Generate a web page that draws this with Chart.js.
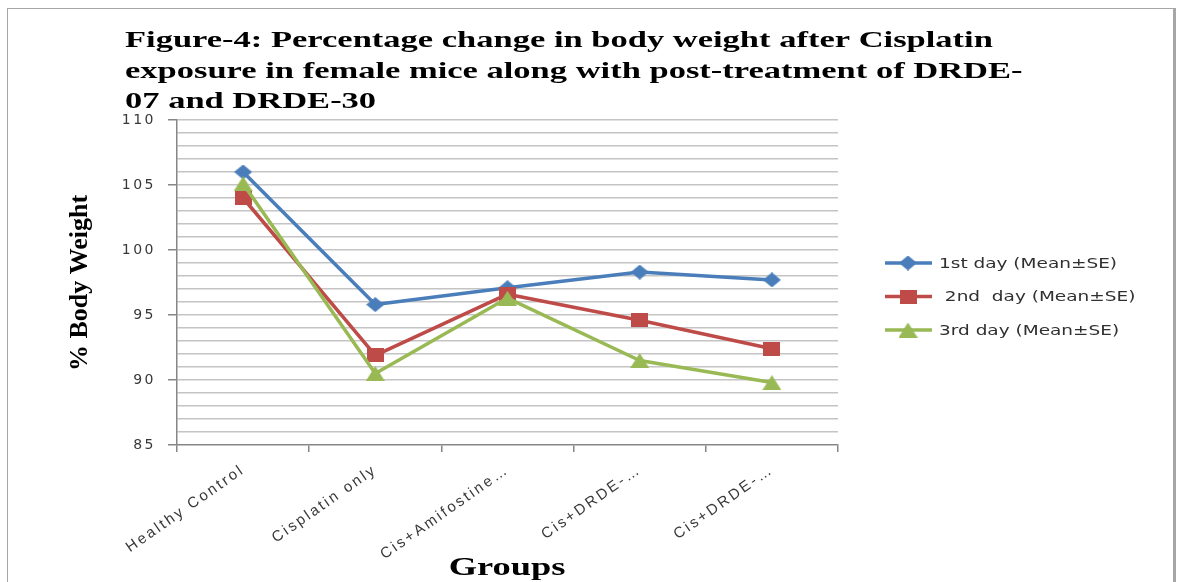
<!DOCTYPE html>
<html>
<head>
<meta charset="utf-8">
<title>Percentage change in body weight</title>
<style>
  html, body { margin: 0; padding: 0; background: #ffffff; overflow: hidden; }
  #wrap { position: relative; width: 1177px; height: 582px; }
  #frame {
    position: absolute; left: 7px; top: 8px; width: 1169px; height: 620px;
    box-sizing: border-box; border: 1.5px solid #a6a6a6; border-right: 3px solid #a6a6a6;
  }
  #c { position: absolute; left: 0; top: 0; }
</style>
<script src="https://cdn.jsdelivr.net/npm/chart.js@4.4.1/dist/chart.umd.min.js"></script>
</head>
<body>
<div id="wrap">
  <div id="frame"></div>
  <canvas id="c" width="1177" height="582"></canvas>
</div>
<script>
// Treatment groups (category axis)
const groups = ['Healthy Control', 'Cisplatin only', 'Cis+Amifostine\u2026', 'Cis+DRDE-\u2026', 'Cis+DRDE-\u2026'];

// % body weight, mean per group
const day1 = [106.0, 95.8, 97.1, 98.3, 97.7];
const day2 = [104.0, 91.9, 96.6, 94.6, 92.4];
const day3 = [105.1, 90.5, 96.3, 91.5, 89.8];

const seriesNames = ['1st day (Mean\u00b1SE)', ' 2nd  day (Mean\u00b1SE)', '3rd day (Mean\u00b1SE)'];

const titleLines = [
  'Figure-4: Percentage change in body weight after Cisplatin',
  'exposure in female mice along with post-treatment of DRDE-',
  '07 and DRDE-30'
];
const yTitle = '% Body Weight';
const xTitle = 'Groups';

const colors = ['#4A7EBB', '#BE4B48', '#98B954'];

// Marker sprites (slightly wide shapes)
function makeMarker(kind, color, w, h) {
  const cv = document.createElement('canvas');
  cv.width = w; cv.height = h;
  const g = cv.getContext('2d');
  g.fillStyle = color;
  g.beginPath();
  if (kind === 'diamond') {
    g.moveTo(w / 2, 0); g.lineTo(w, h / 2); g.lineTo(w / 2, h); g.lineTo(0, h / 2);
  } else if (kind === 'square') {
    g.rect(0, 0, w, h);
  } else {
    g.moveTo(w / 2, 0); g.lineTo(w, h); g.lineTo(0, h);
  }
  g.closePath();
  g.fill();
  return cv;
}
const markers = [
  makeMarker('diamond', colors[0], 18, 15),
  makeMarker('square', colors[1], 17, 14),
  makeMarker('triangle', colors[2], 19, 15)
];

const seriesValues = [day1, day2, day3];

// Text drawn with a horizontal stretch (wide lettering)
function wideText(ctx, text, x, y, sx) {
  ctx.save();
  ctx.translate(x, y);
  ctx.scale(sx, 1);
  ctx.fillText(text, 0, 0);
  ctx.restore();
}

const figureText = {
  id: 'figureText',
  beforeDraw(chart) {
    chart.ctx.letterSpacing = '2.5px';
  },
  afterDraw(chart) {
    const ctx = chart.ctx;
    ctx.save();
    ctx.letterSpacing = '0px';

    // Title
    ctx.fillStyle = '#000000';
    ctx.textAlign = 'left';
    ctx.textBaseline = 'alphabetic';
    ctx.font = 'bold 23px "Liberation Serif", "Times New Roman", serif';
    titleLines.forEach((t, i) => wideText(ctx, t, 125, 47 + i * 30.5, 1.5));

    // Axis titles
    ctx.save();
    ctx.translate(80, 283);
    ctx.rotate(-Math.PI / 2);
    ctx.textAlign = 'center';
    ctx.textBaseline = 'middle';
    ctx.font = 'bold 26px "Liberation Serif", "Times New Roman", serif';
    ctx.fillText(yTitle, 0, 0);
    ctx.restore();

    ctx.textAlign = 'center';
    ctx.textBaseline = 'alphabetic';
    ctx.font = 'bold 26px "Liberation Serif", "Times New Roman", serif';
    wideText(ctx, xTitle, 507, 575, 1.4);

    // Legend
    ctx.font = '14px "DejaVu Sans", Verdana, sans-serif';
    ctx.textAlign = 'left';
    ctx.textBaseline = 'middle';
    chart.data.datasets.forEach((ds, i) => {
      const y = 263 + i * 33.5;
      ctx.strokeStyle = ds.borderColor;
      ctx.lineWidth = 3.5;
      ctx.beginPath();
      ctx.moveTo(885, y);
      ctx.lineTo(932, y);
      ctx.stroke();
      const m = ds.pointStyle;
      ctx.drawImage(m, 908 - m.width / 2, y - m.height / 2);
      ctx.fillStyle = '#303030';
      wideText(ctx, ds.label, 939, y + 1, 1.32);
    });

    ctx.restore();
  }
};

new Chart(document.getElementById('c'), {
  type: 'line',
  data: {
    labels: groups,
    datasets: seriesValues.map((vals, i) => ({
      label: seriesNames[i],
      data: vals,
      borderColor: colors[i],
      backgroundColor: colors[i],
      borderWidth: 3.5,
      borderJoinStyle: 'round',
      pointStyle: markers[i],
      tension: 0,
      order: 3 - i
    }))
  },
  options: {
    responsive: false,
    animation: false,
    devicePixelRatio: 1,
    layout: { padding: { top: 120, right: 339, left: 0, bottom: 0 } },
    plugins: {
      legend: { display: false },
      title: { display: false },
      tooltip: { enabled: false }
    },
    scales: {
      x: {
        type: 'category',
        offset: true,
        afterFit(s) { s.height = 137; },
        grid: {
          offset: true,
          drawOnChartArea: false,
          drawTicks: true,
          tickLength: 7,
          color: '#868686',
          lineWidth: 1.5
        },
        border: { color: '#868686', width: 1.5 },
        ticks: {
          autoSkip: false,
          maxRotation: 35,
          minRotation: 35,
          padding: 9,
          color: '#383838',
          font: { family: '"Liberation Sans", Arial, sans-serif', size: 15 }
        }
      },
      y: {
        min: 85,
        max: 110,
        afterFit(s) { s.width = 177; },
        grid: {
          color: (c) => (c.tick && c.tick.value === 85) ? 'rgba(0,0,0,0)' : '#c4c4c4',
          tickColor: (c) => (c.tick && c.tick.value % 5 === 0) ? '#868686' : 'rgba(0,0,0,0)',
          lineWidth: 1.5,
          tickLength: 9,
          drawTicks: true
        },
        border: { color: '#868686', width: 1.5 },
        ticks: {
          stepSize: 1,
          autoSkip: false,
          padding: 12,
          color: '#383838',
          font: { family: '"DejaVu Sans", Verdana, sans-serif', size: 14 },
          callback: (v) => (v % 5 === 0 ? String(v) : '')
        }
      }
    }
  },
  plugins: [figureText]
});
</script>
</body>
</html>
